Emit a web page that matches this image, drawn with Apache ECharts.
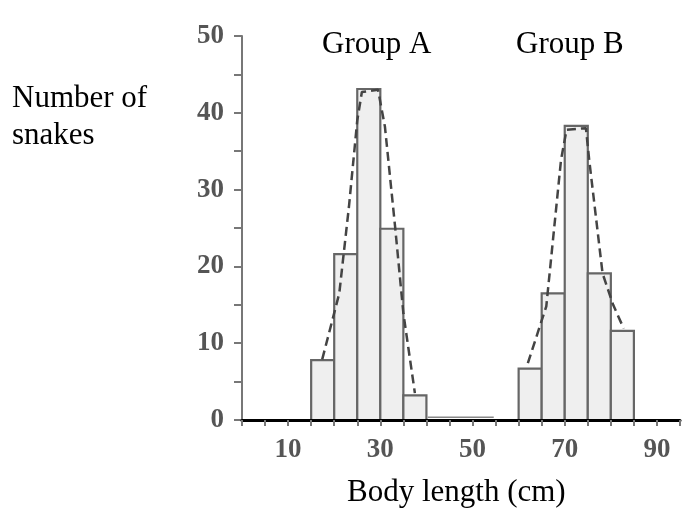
<!DOCTYPE html>
<html>
<head>
<meta charset="utf-8">
<script src="https://cdn.jsdelivr.net/npm/echarts@6/dist/echarts.min.js"></script>
<style>
  html, body { margin: 0; padding: 0; background: #fff; }
  #chart { width: 683px; height: 511px; }
</style>
</head>
<body>
<div id="chart"></div>
<script>
// histogram bins (cm), each bin is 5 cm wide
const binWidth = 5;
const binStartsA = [15, 20, 25, 30, 35];
const countsA = [7.8, 21.6, 43.1, 24.9, 3.2];
const binStartsB = [60, 65, 70, 75, 80];
const countsB = [6.7, 16.5, 38.3, 19.1, 11.6];

// dashed fit curves, [length, count]
const curveA = [[17.4, 7.9], [19.6, 13], [21.1, 16.5], [23.2, 27.8], [25, 39], [26, 42.7],
  [29.5, 43], [31, 38.2], [33.2, 25.2], [35, 13.9], [37.5, 3.5]];
const curveB = [[62, 7.4], [66, 14.8], [69.2, 33.9], [70.4, 37.8], [74.6, 38], [75.3, 33.9],
  [78.2, 19.1], [80.5, 15], [82.8, 11.9]];

// faint baseline segment between the groups
const flatLine = [[40.3, 0.35], [54.6, 0.35]];

const xLabels = [10, 30, 50, 70, 90];
const yLabels = [0, 10, 20, 30, 40, 50];

const serif = '"Liberation Serif", "DejaVu Serif", serif';

function binData(starts, counts) {
  return starts.map((s, i) => [s, counts[i]]);
}

function renderBin(params, api) {
  const x0 = api.value(0);
  const h = api.value(1);
  const p0 = api.coord([x0, 0]);
  const p1 = api.coord([x0 + binWidth, h]);
  return {
    type: 'rect',
    shape: { x: p0[0], y: p1[1], width: p1[0] - p0[0], height: p0[1] - p1[1] },
    style: { fill: '#efefef', stroke: '#666', lineWidth: 2.2 }
  };
}

const myChart = echarts.init(document.getElementById('chart'));
myChart.setOption({
  animation: false,
  backgroundColor: '#fff',
  grid: { left: 242, top: 36, height: 384, width: 443.3 },
  xAxis: {
    type: 'value', min: 0, max: 95, interval: 5, z: 5,
    axisLine: { lineStyle: { color: '#000', width: 3 } },
    axisTick: { length: 6, lineStyle: { color: '#777', width: 2 } },
    splitLine: { show: false },
    axisLabel: {
      margin: 17,
      fontFamily: serif, fontSize: 27, fontWeight: 'bold', color: '#555',
      formatter: v => xLabels.indexOf(v) >= 0 ? String(v) : ''
    }
  },
  yAxis: {
    type: 'value', min: 0, max: 50, interval: 5,
    axisLine: { show: true, lineStyle: { color: '#777', width: 2 } },
    axisTick: { show: true, length: 8, lineStyle: { color: '#777', width: 2 } },
    splitLine: { show: false },
    axisLabel: {
      margin: 18,
      fontFamily: serif, fontSize: 27, fontWeight: 'bold', color: '#555',
      formatter: v => yLabels.indexOf(v) >= 0 ? String(v) : ''
    }
  },
  graphic: [
    { type: 'text', left: 12, top: 83, style: { text: 'Number of', font: '31px ' + serif, fill: '#000' } },
    { type: 'text', left: 12, top: 120, style: { text: 'snakes', font: '31px ' + serif, fill: '#000' } },
    { type: 'text', left: 322, top: 29, style: { text: 'Group A', font: '31px ' + serif, fill: '#000' } },
    { type: 'text', left: 516, top: 29, style: { text: 'Group B', font: '31px ' + serif, fill: '#000' } },
    { type: 'text', left: 347, top: 477, style: { text: 'Body length (cm)', font: '31px ' + serif, fill: '#000' } }
  ],
  series: [
    { type: 'custom', renderItem: renderBin, data: binData(binStartsA, countsA) },
    { type: 'custom', renderItem: renderBin, data: binData(binStartsB, countsB) },
    { type: 'line', data: flatLine, symbol: 'none', lineStyle: { color: '#888', width: 1.5 } },
    { type: 'line', data: curveA, symbol: 'none', lineStyle: { color: '#444', width: 2.5, type: [9, 5] } },
    { type: 'line', data: curveB, symbol: 'none', lineStyle: { color: '#444', width: 2.5, type: [9, 5] } }
  ]
});
</script>
</body>
</html>
